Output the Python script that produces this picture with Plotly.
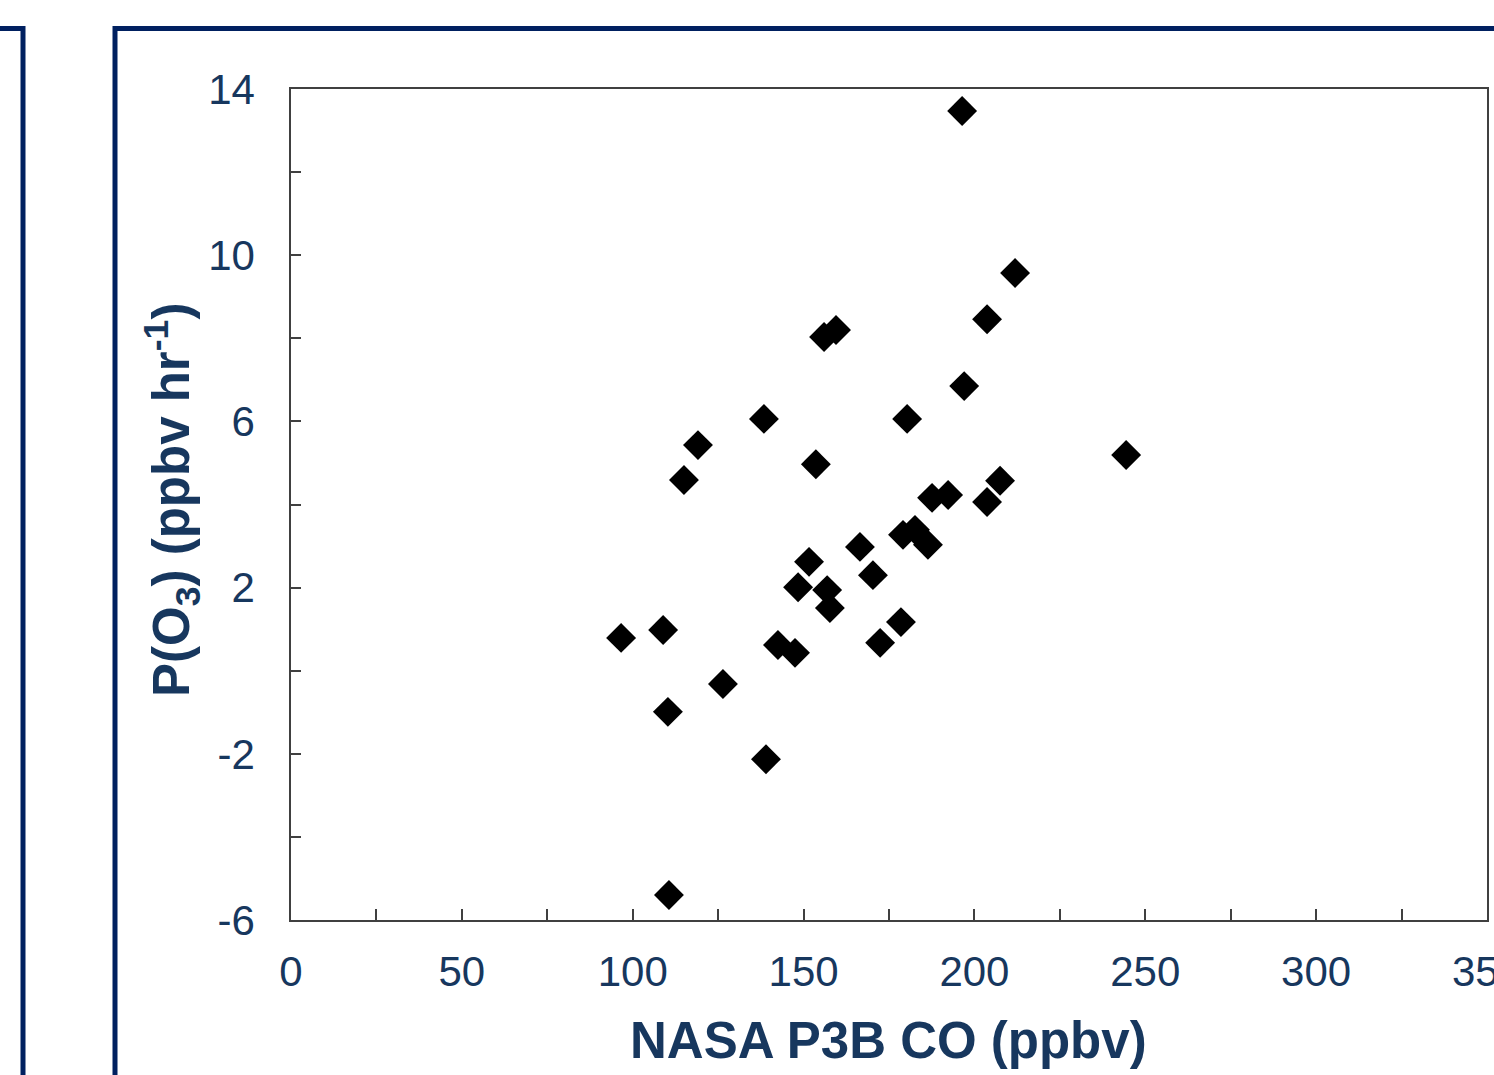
import plotly.graph_objects as go

# Data (CO in ppbv, P(O3) in ppbv/hr)
co_ppbv = [196.4, 211.9, 203.7, 156.0, 159.5, 197.0, 138.4, 180.3, 119.1, 115.0,
           153.6, 244.4, 207.5, 203.7, 192.3, 187.6, 179.1, 182.6, 186.4, 166.5,
           170.3, 151.6, 148.4, 156.9, 157.7, 178.5, 96.6, 108.9, 142.5, 147.5,
           172.4, 126.4, 110.3, 139.0, 110.6]
po3 = [13.47, 9.57, 8.46, 8.03, 8.20, 6.85, 6.06, 6.06, 5.43, 4.59,
       4.97, 5.19, 4.57, 4.06, 4.23, 4.16, 3.27, 3.39, 3.03, 2.98,
       2.30, 2.62, 2.01, 1.94, 1.51, 1.17, 0.79, 0.98, 0.62, 0.43,
       0.67, -0.32, -0.99, -2.13, -5.40]

x_ticks = [0, 50, 100, 150, 200, 250, 300, 350]
x_labels = ["0", "50", "100", "150", "200", "250", "300", "350"]
y_ticks = [-6, -2, 2, 6, 10, 14]
y_labels = ["-6", "-2", "2", "6", "10", "14"]

W, H = 1494, 1075
L, R, T, B = 291, 7, 89, 155
PW, PH = W - L - R, H - T - B

def px(x):
    return (x - L) / PW

def py(y):
    return (H - B - y) / PH

text_col = "#17375E"
box_col = "#002060"
font_family = "Arial, Liberation Sans, sans-serif"

fig = go.Figure()
fig.add_trace(go.Scatter(
    x=co_ppbv, y=po3, mode="markers",
    marker=dict(symbol="diamond", size=23, color="black", line=dict(width=0)),
    showlegend=False, hoverinfo="x+y",
))

axis_common = dict(
    showline=True, linecolor="#404040", linewidth=1.5, mirror=True,
    showgrid=False, zeroline=False, ticks="inside", tickcolor="#404040",
    tickwidth=1.5, ticklabeloverflow="allow", automargin=False,
    tickfont=dict(family=font_family, size=42, color=text_col),
)

fig.update_xaxes(range=[0, 350], tickvals=x_ticks, ticktext=x_labels, ticklen=11,
                 ticklabelstandoff=14,
                 minor=dict(dtick=25, ticks="inside", ticklen=11, tickcolor="#404040", tickwidth=1.5),
                 **axis_common)
fig.update_yaxes(range=[-6, 14], tickvals=y_ticks, ticktext=y_labels, ticklen=10,
                 ticklabelstandoff=26,
                 minor=dict(dtick=2, ticks="inside", ticklen=10, tickcolor="#404040", tickwidth=1.5),
                 **axis_common)

# Axis titles as annotations
fig.add_annotation(text="NASA P3B CO (ppbv)", xref="paper", yref="paper",
                   x=px(888), y=py(1040), xanchor="center", yanchor="middle",
                   showarrow=False,
                   font=dict(family=font_family, size=51, color=text_col, weight="bold"))
fig.add_annotation(text="P(O<sub>3</sub>) (ppbv hr<sup>-1</sup>)", xref="paper", yref="paper",
                   x=px(172), y=py(500), xanchor="center", yanchor="middle",
                   textangle=-90, showarrow=False,
                   font=dict(family=font_family, size=51, color=text_col, weight="bold"))

# Slide frame boxes
fig.add_shape(type="path", xref="paper", yref="paper",
              path=f"M {px(115)},{py(1090)} L {px(115)},{py(28.5)} L {px(1510)},{py(28.5)}",
              line=dict(color=box_col, width=5))
fig.add_shape(type="path", xref="paper", yref="paper",
              path=f"M {px(-10)},{py(28.5)} L {px(23)},{py(28.5)} L {px(23)},{py(1090)}",
              line=dict(color=box_col, width=5))

fig.update_layout(
    width=W, height=H,
    margin=dict(l=L, r=R, t=T, b=B, pad=0, autoexpand=False),
    paper_bgcolor="white", plot_bgcolor="white",
)

fig.write_html("out.html", config={"displayModeBar": False},
               post_script="document.body.style.margin='0';document.body.style.overflow='hidden';")
